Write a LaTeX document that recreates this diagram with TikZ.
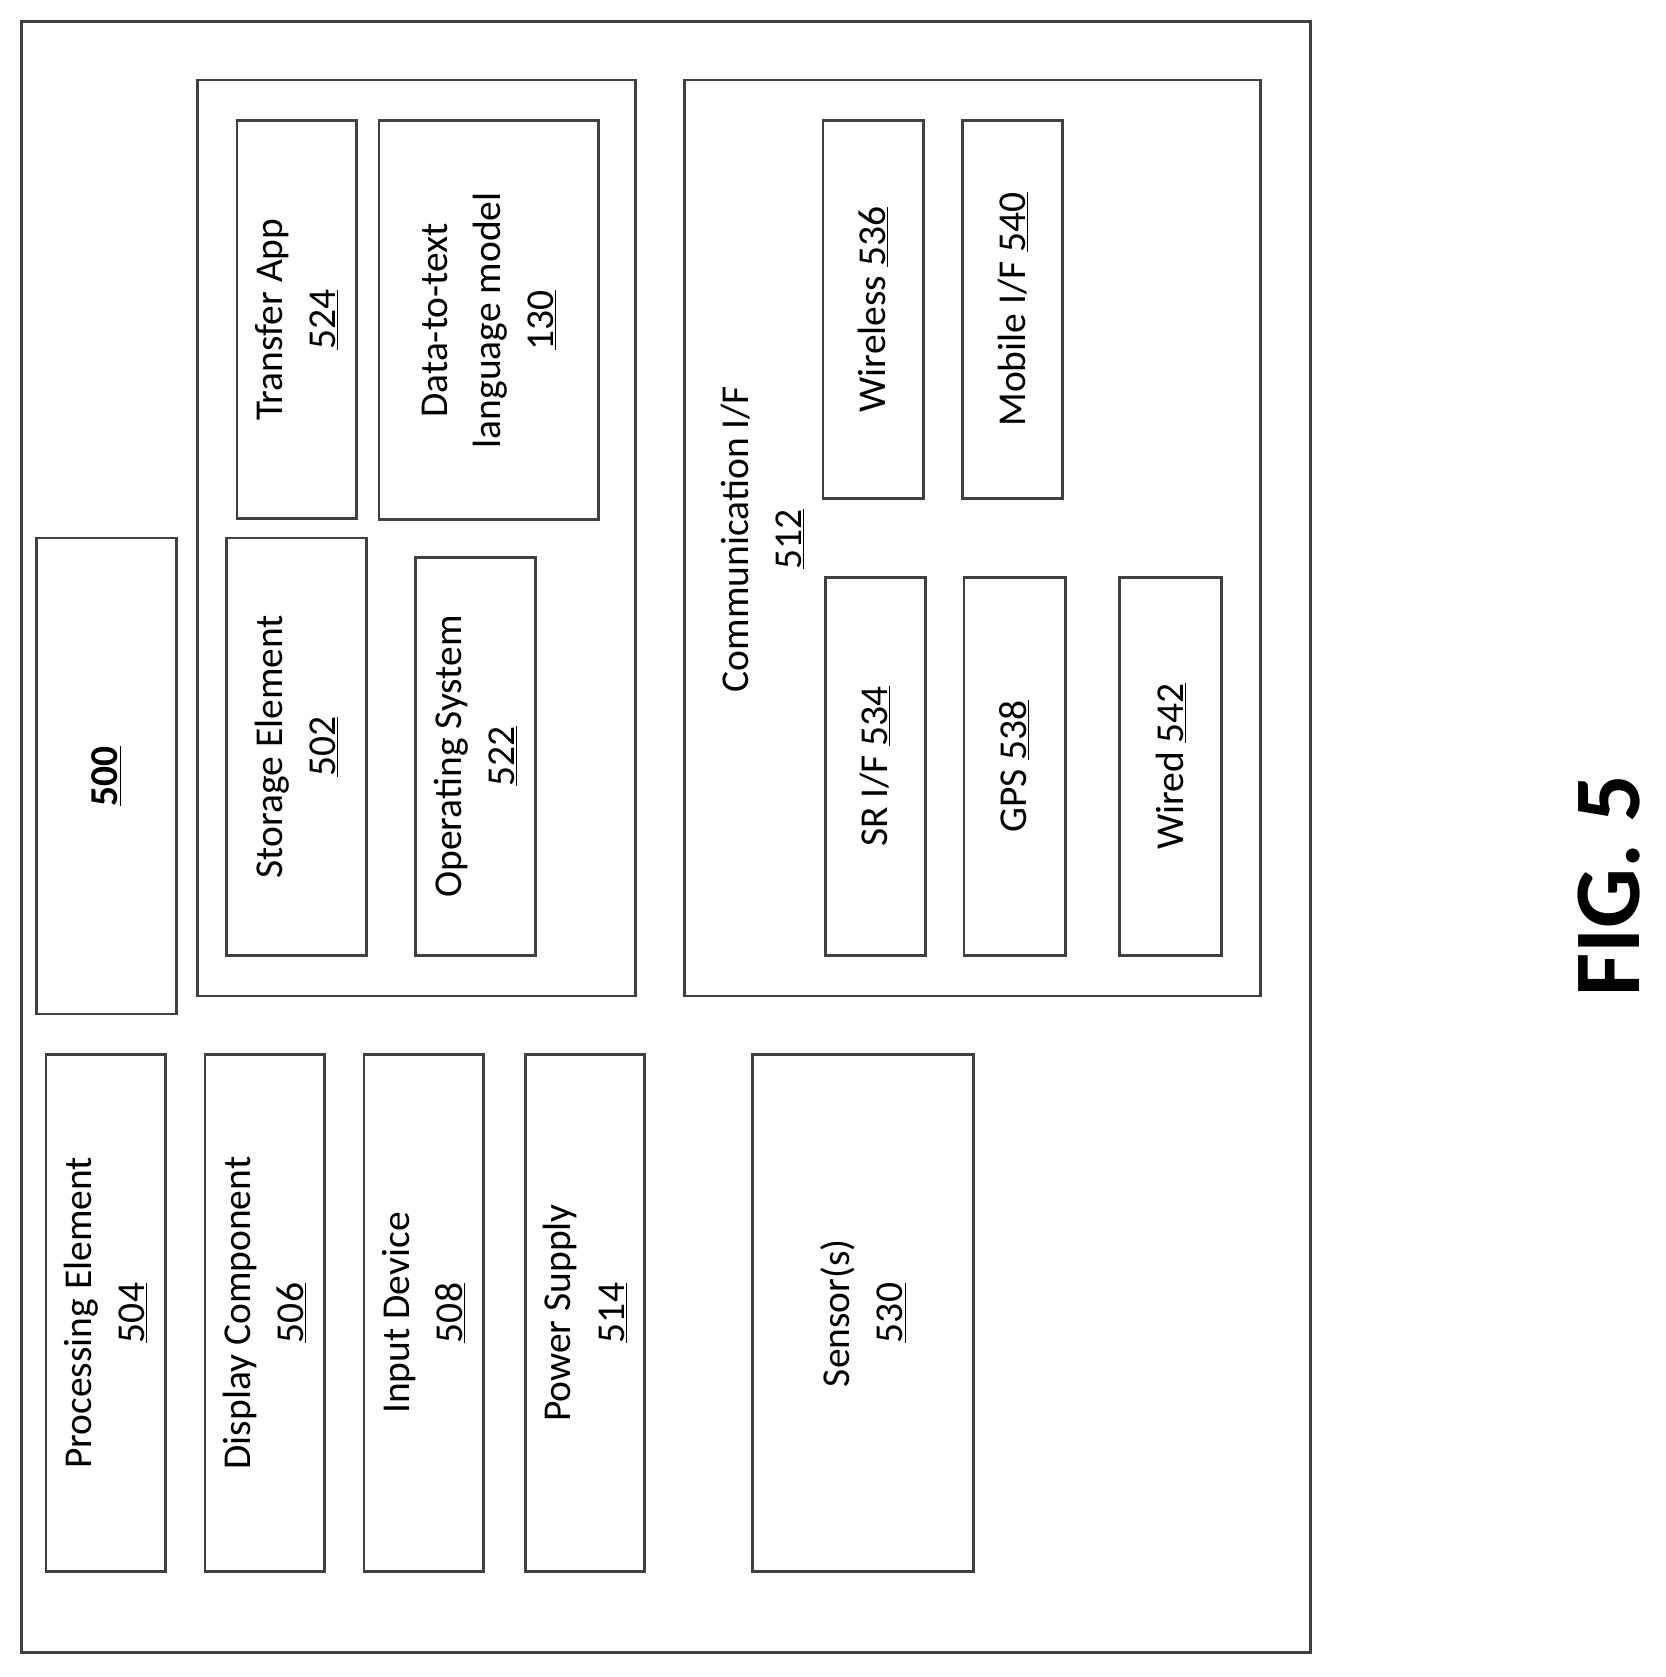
\documentclass[tikz,border=0pt]{standalone}
\usepackage{fontspec}
\setmainfont{Carlito}
\begin{document}
\begin{tikzpicture}[x=1pt,y=-1pt,
 bx/.style={draw=black!75,line width=2.6pt,rotate=90,align=center,inner sep=0pt,
   font=\fontsize{37}{50}\selectfont},
 tx/.style={rotate=90,align=center,inner sep=0pt,font=\fontsize{37}{50}\selectfont}]
\useasboundingbox (0,0) rectangle (1560,1571);
\def\B#1#2#3#4#5#6{\node[bx,minimum width={(#4)-(#2)},minimum height={(#3)-(#1)}] (#6) at ({((#1)+(#3))/2},{((#2)+(#4))/2}) {#5};}
\node[draw=black!75,line width=2.6pt,minimum width=1208,minimum height=1528] (outer) at (624,784) {};
\B{34}{504}{165}{950}{\textbf{\underline{500}}}{b500}
\B{185}{75}{595}{933}{}{mem}
\B{222}{113}{334}{486}{Transfer App\\\underline{524}}{app}
\B{355}{113}{561}{487}{Data-to-text\\language model\\\underline{130}}{dtt}
\B{212}{504}{343}{895}{Storage Element\\\underline{502}}{stor}
\B{389}{522}{502}{895}{Operating System\\\underline{522}}{os}
\B{641}{75}{1181}{933}{}{comm}
\node[tx] (commt) at (714,505) {Communication I/F\\\underline{512}};
\B{771}{113}{865}{467}{Wireless \underline{536}}{wl}
\B{902}{113}{995}{467}{Mobile I/F \underline{540}}{mob}
\B{773}{541}{867}{895}{SR I/F \underline{534}}{sr}
\B{903}{541}{998}{895}{GPS \underline{538}}{gps}
\B{1049}{541}{1144}{895}{Wired \underline{542}}{wired}
\B{43}{988}{155}{1472}{Processing Element\\\underline{504}}{pe}
\B{192}{988}{304}{1472}{Display Component\\\underline{506}}{dc}
\B{341}{988}{453}{1472}{Input Device\\\underline{508}}{id}
\B{492}{988}{604}{1472}{Power Supply\\\underline{514}}{ps}
\B{705}{988}{912}{1472}{Sensor(s)\\\underline{530}}{sens}
\node[rotate=90,font=\fontsize{88}{100}\selectfont\bfseries] (fig) at (1507,830) {FIG. 5};
\end{tikzpicture}
\end{document}
